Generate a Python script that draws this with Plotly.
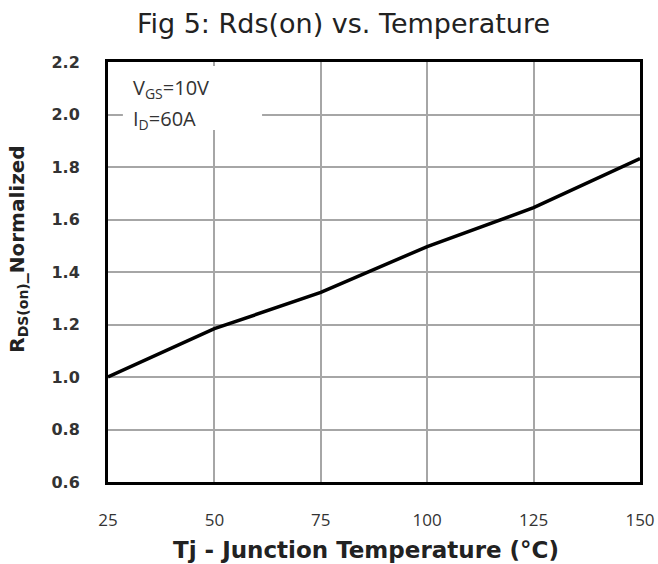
import plotly.graph_objects as go

temps = [25, 50, 75, 100, 125, 150]
rds_norm = [1.0, 1.184, 1.322, 1.497, 1.645, 1.832]
x_ticks = [25, 50, 75, 100, 125, 150]
y_ticks = [0.6, 0.8, 1.0, 1.2, 1.4, 1.6, 1.8, 2.0, 2.2]
y_tick_text = ["0.6", "0.8", "1.0", "1.2", "1.4", "1.6", "1.8", "2.0", "2.2"]

fig = go.Figure()
fig.add_trace(go.Scatter(x=temps, y=rds_norm, mode="lines",
                         line=dict(color="black", width=3.5), showlegend=False,
                         cliponaxis=False))

# white box behind the condition text (covers gridlines)
fig.add_shape(type="rect", xref="x", yref="y", x0=28.5, x1=61.2, y0=1.941, y1=2.185,
              fillcolor="white", line=dict(width=0), layer="between")

fig.add_annotation(x=0.043, y=0.936, xref="paper", yref="paper", xanchor="left", yanchor="middle",
                   text="V<sub>GS</sub>=10V", showarrow=False,
                   font=dict(family="Open Sans", size=20, color="#333333"))
fig.add_annotation(x=0.043, y=0.862, xref="paper", yref="paper", xanchor="left", yanchor="middle",
                   text="I<sub>D</sub>=60A", showarrow=False,
                   font=dict(family="Open Sans", size=20, color="#333333"))

# y-axis title as rotated annotation (placed like the reference)
fig.add_annotation(x=(18 - 108) / 532, y=0.553, xref="paper", yref="paper",
                   xanchor="center", yanchor="middle",
                   text="R<sub>DS(on)</sub>_Normalized", showarrow=False, textangle=-90,
                   font=dict(family="DejaVu Sans", size=20, color="#222222", weight="bold"))

# x-axis title as annotation (placed like the reference)
fig.add_annotation(x=(366 - 108) / 532, y=-(550 - 482) / 420, xref="paper", yref="paper",
                   xanchor="center", yanchor="middle",
                   text="Tj - Junction Temperature (°C)", showarrow=False,
                   font=dict(family="DejaVu Sans", size=23, color="#222222", weight="bold"))

fig.update_layout(
    width=658, height=564,
    margin=dict(l=108, r=18, t=62, b=82),
    paper_bgcolor="white", plot_bgcolor="white",
    title=dict(text="Fig 5: Rds(on) vs. Temperature", x=0.522, xanchor="center",
               y=0.958, yanchor="middle",
               font=dict(family="DejaVu Sans", size=27, color="#222222")),
    xaxis=dict(range=[25, 150], tickvals=x_ticks, ticktext=[str(v) for v in x_ticks],
               showgrid=True, gridcolor="#a6a6a6", gridwidth=1.5,
               showline=True, linecolor="black", linewidth=3, mirror=True,
               ticks="", ticklabelstandoff=21, automargin=False,
               tickfont=dict(family="Open Sans", size=17, color="#333333"),
               zeroline=False, fixedrange=True),
    yaxis=dict(range=[0.6, 2.2], tickvals=y_ticks, ticktext=y_tick_text,
               showgrid=True, gridcolor="#a6a6a6", gridwidth=1.5,
               showline=True, linecolor="black", linewidth=3, mirror=True,
               ticks="", ticklabelstandoff=22, automargin=False,
               tickfont=dict(family="DejaVu Sans", size=16, color="#333333", weight="bold"),
               zeroline=False, fixedrange=True),
)

fig.write_html("out.html")
